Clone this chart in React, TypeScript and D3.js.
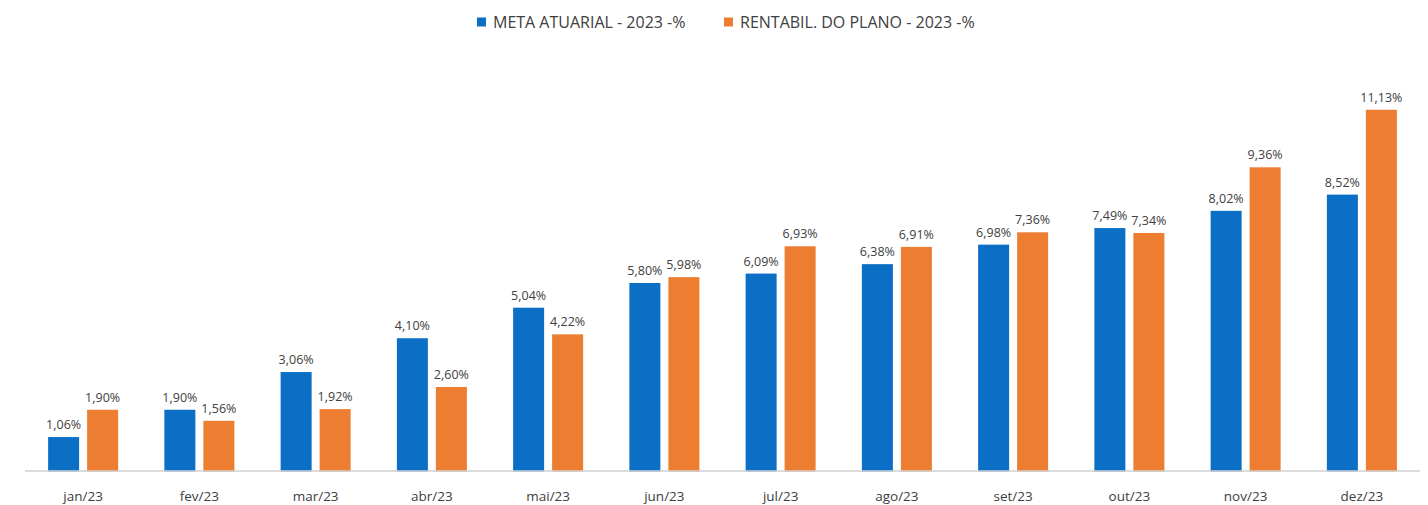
import React, { useRef, useEffect } from "react";
import * as d3 from "d3";

const months = ["jan/23", "fev/23", "mar/23", "abr/23", "mai/23", "jun/23", "jul/23", "ago/23", "set/23", "out/23", "nov/23", "dez/23"];
const meta = [1.06, 1.9, 3.06, 4.1, 5.04, 5.8, 6.09, 6.38, 6.98, 7.49, 8.02, 8.52];
const rentabil = [1.9, 1.56, 1.92, 2.6, 4.22, 5.98, 6.93, 6.91, 7.36, 7.34, 9.36, 11.13];
const seriesNames = ["META ATUARIAL - 2023 -%", "RENTABIL. DO PLANO - 2023 -%"];
const colors = ["#0B6FC6", "#ED7D31"];

const W = 1428;
const H = 505;

const App = () => {
  const svgRef = useRef<SVGSVGElement>(null);

  useEffect(() => {
    const svg = d3.select(svgRef.current);
    svg.selectAll("*").remove();

    const font = "'Open Sans', sans-serif";
    const left = 25;
    const right = 1420;
    const base = 471.5;

    const x = d3.scaleBand().domain(months).range([left, right]).paddingInner(0).paddingOuter(0);
    const y = d3.scaleLinear().domain([0, 12]).range([base, base - 12 * 32.5]);

    const barW = 31;
    const gap = 8;
    const offsets = [-gap / 2 - barW, gap / 2];

    const data = months.map((m, i) => ({ m, vals: [meta[i], rentabil[i]] }));

    const g = svg.append("g");

    // bars + value labels
    [0, 1].forEach((s) => {
      g.selectAll(`.bar${s}`)
        .data(data)
        .enter()
        .append("rect")
        .attr("x", (d) => x(d.m)! + x.bandwidth() / 2 + offsets[s])
        .attr("y", (d) => y(d.vals[s]))
        .attr("width", barW)
        .attr("height", (d) => base - y(d.vals[s]))
        .attr("fill", colors[s]);

      g.selectAll(`.lbl${s}`)
        .data(data)
        .enter()
        .append("text")
        .attr("x", (d) => x(d.m)! + x.bandwidth() / 2 + offsets[s] + barW / 2)
        .attr("y", (d) => y(d.vals[s]) - 8)
        .attr("text-anchor", "middle")
        .style("font-family", font)
        .style("font-size", "12.5px")
        .style("fill", "#404040")
        .text((d) => d3.format(".2f")(d.vals[s]).replace(".", ",") + "%");
    });

    // axis line
    g.append("line")
      .attr("x1", left)
      .attr("x2", right)
      .attr("y1", base - 0.5)
      .attr("y2", base - 0.5)
      .attr("stroke", "#D0D0D0")
      .attr("stroke-width", 1.5);

    g.selectAll(".xl")
      .data(months)
      .enter()
      .append("text")
      .attr("x", (d) => x(d)! + x.bandwidth() / 2)
      .attr("y", 501)
      .attr("text-anchor", "middle")
      .style("font-family", font)
      .style("font-size", "13.5px")
      .style("fill", "#404040")
      .text((d) => d);

    // legend
    const legX = [477, 724];
    seriesNames.forEach((name, i) => {
      g.append("rect")
        .attr("x", legX[i])
        .attr("y", 17.5)
        .attr("width", 9)
        .attr("height", 9)
        .attr("fill", colors[i]);
      g.append("text")
        .attr("x", legX[i] + 16)
        .attr("y", 28)
        .style("font-family", font)
        .style("font-size", "16px")
        .style("fill", "#404040")
        .text(name);
    });
  }, []);

  return (
    <div style={{ position: "fixed", left: 0, top: 0, width: W, height: H, background: "#fff" }}>
      <svg ref={svgRef} width={W} height={H} style={{ display: "block" }}></svg>
    </div>
  );
};

export default App;
